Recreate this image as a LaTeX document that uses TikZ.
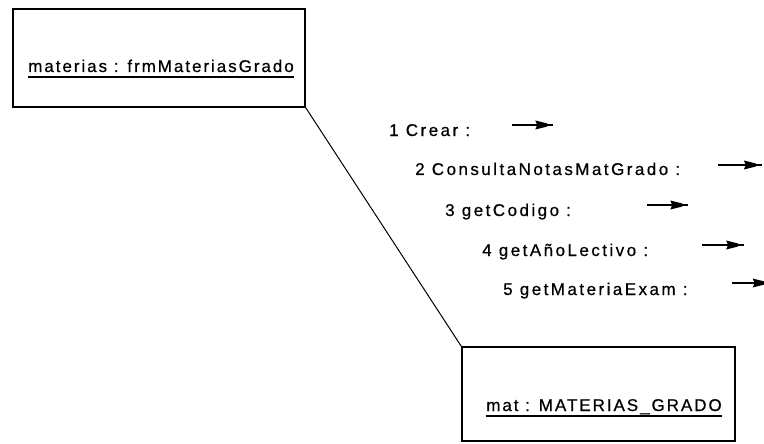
\documentclass[tikz,border=0pt]{standalone}
\usepackage{fontspec}
\setmainfont{Liberation Sans}[LetterSpace=11.5, FakeBold=0.6]
\newfontfamily\msgfont{Liberation Sans}[LetterSpace=14.5, FakeBold=0.6]
\usetikzlibrary{decorations.markings}
\begin{document}
\begin{tikzpicture}[x=1pt,y=-1pt,
  objbox/.style={draw, line width=1.6pt, inner sep=0pt},
  lbl/.style={inner sep=0pt, font=\fontsize{17}{20}\selectfont},
  mlbl/.style={inner sep=0pt, font=\msgfont\fontsize{17}{20}\selectfont},
  uline/.style={line width=1.4pt},
  link/.style={line width=1pt},
  msg/.style={line width=1.5pt, postaction={decorate},
    decoration={markings, mark=at position 0.86 with
      {\fill (-12pt,-4.5pt) -- (0pt,-1.5pt) -- (0pt,1.5pt) -- (-12pt,4.5pt) -- (-10pt,0pt) -- cycle;}}}]
\useasboundingbox (0,0) rectangle (764,444);
% objects
\node[objbox, minimum width=292pt, minimum height=98pt] (b1) at (159,58) {};
\node[objbox, minimum width=273pt, minimum height=94pt] (b2) at (598.5,394) {};
\node[lbl, anchor=base] (t1) at (161,72) {materias : frmMateriasGrado};
\node[lbl, anchor=base] (t2) at (604,411) {mat : MATERIAS\_GRADO};
\draw[uline] ([yshift=-5pt]t1.base west) -- ([yshift=-5pt]t1.base east);
\draw[uline] ([yshift=-5pt]t2.base west) -- ([yshift=-5pt]t2.base east);
% link
\draw[link] (b1.south east) -- (b2.north west);
% messages
\node[mlbl, anchor=base west] (m1) at (389,136) {1 Crear :};
\node[mlbl, anchor=base west] (m2) at (415,175) {2 ConsultaNotasMatGrado :};
\node[mlbl, anchor=base west] (m3) at (445,216) {3 getCodigo :};
\node[mlbl, anchor=base west] (m4) at (482,256) {4 getAñoLectivo :};
\node[mlbl, anchor=base west] (m5) at (503,295) {5 getMateriaExam :};
\coordinate (a1s) at (512,125); \coordinate (a1e) at (553,125);
\coordinate (a2s) at (718,165); \coordinate (a2e) at (762,165);
\coordinate (a3s) at (647,205); \coordinate (a3e) at (688,205);
\coordinate (a4s) at (702,245); \coordinate (a4e) at (744,245);
\coordinate (a5s) at (732,283); \coordinate (a5e) at (770,283);
\draw[msg] (a1s) -- (a1e);
\draw[msg] (a2s) -- (a2e);
\draw[msg] (a3s) -- (a3e);
\draw[msg] (a4s) -- (a4e);
\draw[msg] (a5s) -- (a5e);
\end{tikzpicture}
\end{document}
